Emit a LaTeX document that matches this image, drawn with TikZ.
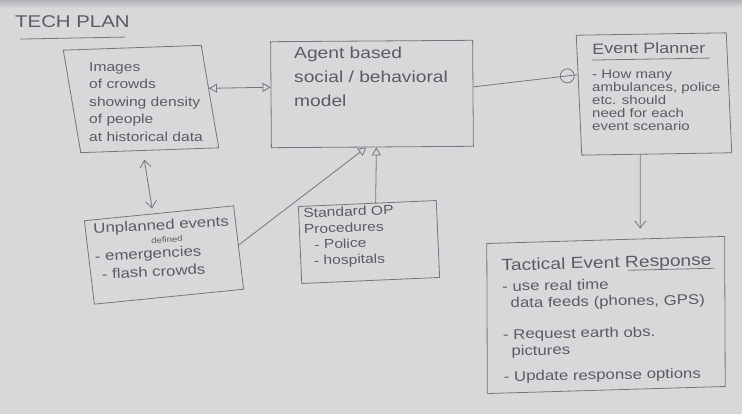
\documentclass[tikz,border=0pt]{standalone}
\usepackage{fontspec}
\newfontfamily\handfont[FakeStretch=1.2]{Liberation Sans}
\usetikzlibrary{arrows.meta,calc}
\definecolor{board}{RGB}{216,216,219}
\definecolor{boardedge}{RGB}{178,178,182}
\definecolor{ink}{RGB}{92,92,96}
\definecolor{pen}{RGB}{118,118,122}
\newcommand\handsize[2]{\handfont\fontsize{#1}{#2}\selectfont}
\tikzset{
  frame/.style={draw=pen, line width=0.8pt, inner sep=0pt},
  txt/.style={inner sep=0pt, anchor=north west, align=left, text=ink},
  conn/.style={draw=pen, line width=0.8pt},
  otri/.tip={Triangle[open,length=8pt,width=9pt]},
  barb/.tip={Straight Barb[length=7pt,width=11pt]},
}
\begin{document}
\begin{tikzpicture}[x=1pt,y=-1pt]
% whiteboard
\fill[board] (0,0) rectangle (742,414);
\shade[top color=boardedge, bottom color=board] (0,0) rectangle (742,8);
\useasboundingbox (0,0) rectangle (742,414);

% hand-drawn frames
\node[frame, minimum width=138pt, minimum height=103pt, rotate=2, xslant=-0.135] (b1) at (141,99) {};
\node[frame, minimum width=202pt, minimum height=106pt, rotate=0.4] (b2) at (372,94) {};
\node[frame, minimum width=150pt, minimum height=120pt, rotate=0.9, xslant=-0.03] (b3) at (654,94) {};
\node[frame, minimum width=150pt, minimum height=84pt, rotate=5.7, xslant=-0.02] (b4) at (164,255) {};
\node[frame, minimum width=138pt, minimum height=77pt, rotate=2.5] (b5) at (369,242) {};
\node[frame, minimum width=238pt, minimum height=150pt, rotate=1.7, xslant=0.026] (b6) at (606,315) {};

% heading
\node[txt, font=\handsize{17}{20}] (title) at (15,15) {TECH PLAN};
\draw[conn] ($(title.base west)+(5,12)$) -- ($(title.base east)+(-5,10)$);

% box texts
\node[txt, font=\handsize{13}{17.5}] (t1) at (89,62)
  {Images\\of crowds\\showing density\\of people\\at historical data};
\node[txt, font=\handsize{16}{24}] (t2) at (294,47)
  {Agent based\\social / behavioral\\model};
\node[txt, font=\handsize{15}{18}, rotate=0.5] (t3a) at (592,43) {Event Planner};
\draw[conn] ($(t3a.base west)+(0,6)$) -- ($(t3a.base east)+(4,5)$);
\node[txt, font=\handsize{12.5}{13}] (t3) at (592,70)
  {- How many\\ambulances, police\\etc. should\\need for each\\event scenario};
\node[txt, font=\handsize{14}{17}, rotate=3] (t4) at (93,223)
  {Unplanned events\\[-4pt]{\handsize{8}{9}\hspace*{57pt}defined}\\[-2pt]- emergencies\\[1.5pt]\hspace*{6pt}- flash crowds};
\node[txt, font=\handsize{13}{16}, rotate=2] (t5) at (303,208)
  {Standard OP\\Procedures\\\hspace*{10pt}- Police\\\hspace*{9pt}- hospitals};
\node[txt, font=\handsize{16}{19}, rotate=1.5] (t6a) at (501,259) {Tactical Event Response};
\draw[conn] ($(t6a.base east)+(-84,5)$) -- ($(t6a.base east)+(2,3)$);
\node[txt, font=\handsize{14}{16.5}, rotate=1] (t6) at (502,281)
  {- use real time\\\hspace*{8pt}data feeds (phones, GPS)\\[15pt]- Request earth obs.\\\hspace*{8pt}pictures\\[9pt]- Update response options};

% connectors
\draw[conn, otri-otri] ($(b1.north east)!0.42!(b1.south east)$) -- ($(b2.north west)!0.43!(b2.south west)$);
\draw[conn] ($(b2.north east)!0.44!(b2.south east)$)
  -- node[pos=0.9, circle, draw=pen, line width=0.8pt, minimum size=14pt, inner sep=0pt] (jn) {}
  ($(b3.north west)!0.33!(b3.south west)$);
\draw[conn, barb-barb, shorten <=9pt, shorten >=5pt] ($(b1.south west)!0.45!(b1.south east)$) -- ($(b4.north west)!0.46!(b4.north east)$);
\draw[conn, -otri] ($(b4.north east)!0.47!(b4.south east)$) -- ($(b2.south west)!0.47!(b2.south east)$);
\draw[conn, -otri] ($(b5.north west)!0.56!(b5.north east)$) -- ($(b2.south west)!0.52!(b2.south east)$);
\draw[conn, -barb, shorten >=10pt] ($(b3.south west)!0.39!(b3.south east)$) -- ($(b6.north west)!0.645!(b6.north east)$);
\end{tikzpicture}
\end{document}
